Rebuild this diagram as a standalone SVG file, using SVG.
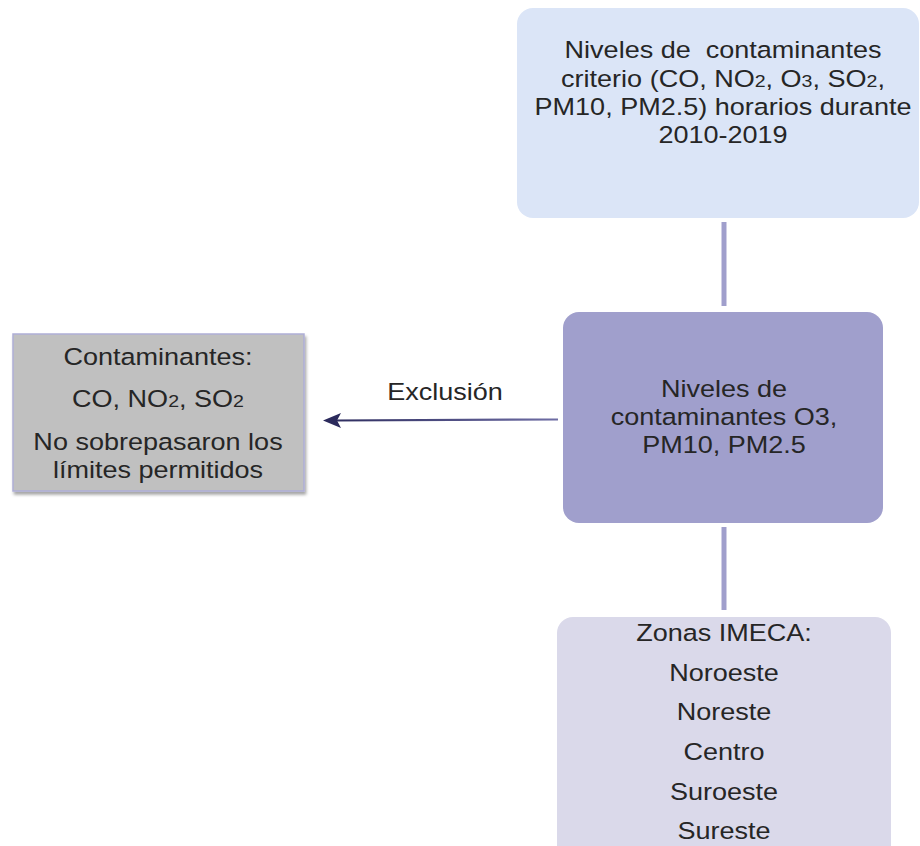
<svg xmlns="http://www.w3.org/2000/svg" width="920" height="846" viewBox="0 0 920 846">
  <style>
    .t { font-family: "Liberation Sans", Arial, sans-serif; font-size: 23.5px; fill: #262626; text-anchor: middle; }
    .sub { font-size: 17px; }
    .conn { stroke: #a09fcc; stroke-width: 5; fill: none; }
  </style>
  <defs>
    <filter id="shadow" x="-10%" y="-10%" width="125%" height="130%">
      <feDropShadow dx="1.5" dy="3" stdDeviation="1.8" flood-color="#000" flood-opacity="0.35"/>
    </filter>
    <linearGradient id="arrowGrad" gradientUnits="userSpaceOnUse" x1="323" y1="0" x2="558" y2="0">
      <stop offset="0" stop-color="#2b2a5c"/>
      <stop offset="1" stop-color="#6e6da4"/>
    </linearGradient>
    <marker id="arrowhead" markerWidth="10" markerHeight="10" refX="1" refY="5" orient="auto" markerUnits="userSpaceOnUse" viewBox="0 0 10 10">
      <path d="M10,0 L0,5 L10,10 L7.5,5 Z" fill="#2b2a5c"/>
    </marker>
  </defs>

  <g id="connectors">
    <line class="conn" x1="724" y1="222" x2="724" y2="306"/>
    <line class="conn" x1="724" y1="527" x2="724" y2="610"/>
    <line x1="558" y1="419.5" x2="334" y2="420.5" stroke="url(#arrowGrad)" stroke-width="2.2"/>
    <path d="M341,413 L323,420.5 L341,428 L337,420.5 Z" fill="#2b2a5c"/>
    <g transform="translate(445,0) scale(1.15,1)">
      <text class="t" x="0" y="400">Exclusión</text>
    </g>
  </g>

  <g id="node-criterio">
    <rect x="517" y="8" width="402" height="210" rx="16" fill="#dbe5f7"/>
    <g transform="translate(723,0) scale(1.15,1)">
      <text class="t" x="0" y="58" xml:space="preserve">Niveles de  contaminantes</text>
      <text class="t" x="0" y="87">criterio (CO, NO<tspan class="sub">2</tspan>, O<tspan class="sub">3</tspan>, SO<tspan class="sub">2</tspan>,</text>
      <text class="t" x="0" y="115">PM10, PM2.5) horarios durante</text>
      <text class="t" x="0" y="143">2010-2019</text>
    </g>
  </g>

  <g id="node-o3">
    <rect x="563" y="312" width="320" height="211" rx="16" fill="#a09fcc"/>
    <g transform="translate(724,0) scale(1.15,1)">
      <text class="t" x="0" y="397">Niveles de</text>
      <text class="t" x="0" y="425">contaminantes O3,</text>
      <text class="t" x="0" y="453">PM10, PM2.5</text>
    </g>
  </g>

  <g id="node-excluidos">
    <rect x="13" y="334" width="291" height="157" fill="#c0c0c0" stroke="#aeaed6" stroke-width="1.5" filter="url(#shadow)"/>
    <g transform="translate(158,0) scale(1.15,1)">
      <text class="t" x="0" y="365">Contaminantes:</text>
      <text class="t" x="0" y="407">CO, NO<tspan class="sub">2</tspan>, SO<tspan class="sub">2</tspan></text>
      <text class="t" x="0" y="450">No sobrepasaron los</text>
      <text class="t" x="0" y="478">límites permitidos</text>
    </g>
  </g>

  <g id="node-zonas">
    <rect x="557" y="617" width="334" height="250" rx="16" fill="#dad9ea"/>
    <g transform="translate(724,0) scale(1.15,1)">
      <text class="t" x="0" y="641">Zonas IMECA:</text>
      <text class="t" x="0" y="681">Noroeste</text>
      <text class="t" x="0" y="720">Noreste</text>
      <text class="t" x="0" y="760">Centro</text>
      <text class="t" x="0" y="800">Suroeste</text>
      <text class="t" x="0" y="839">Sureste</text>
    </g>
  </g>
</svg>
